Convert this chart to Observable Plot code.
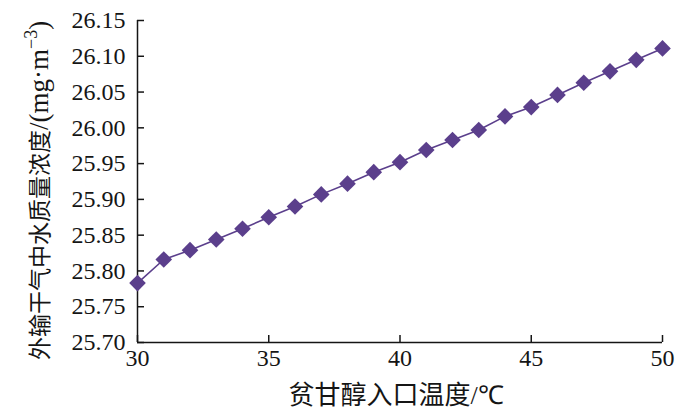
<!DOCTYPE html>
<html><head><meta charset="utf-8">
<script src="https://cdn.jsdelivr.net/npm/d3@7"></script>
<script src="https://cdn.jsdelivr.net/npm/@observablehq/plot@0.6"></script>
<style>
html,body{margin:0;padding:0;background:#fff}
</style>
</head><body><div id="chart"></div>
<script>
const temps = [30,31,32,33,34,35,36,37,38,39,40,41,42,43,44,45,46,47,48,49,50];
const conc = [25.783,25.816,25.829,25.844,25.859,25.875,25.890,25.907,25.922,25.938,25.952,25.969,25.983,25.997,26.016,26.029,26.046,26.063,26.079,26.095,26.111];
const xTicks = [30,35,40,45,50];
const yTicks = [25.70,25.75,25.80,25.85,25.90,25.95,26.00,26.05,26.10,26.15];
const xTitle = "贫甘醇入口温度";
const xUnit = "/℃";
const yTitle = "外输干气中水质量浓度";
const yUnit = "/(mg·m";
const yUnitSup = "−3";

const data = temps.map((t, i) => ({t, c: conc[i]}));
const W = 700, H = 415, mL = 137, mR = 38, mT = 20, mB = 73;
const purple = "#5b3f8c";
const ink = "#151515";
const serif = '"Liberation Serif", serif';

const plot = Plot.plot({
  width: W, height: H,
  marginLeft: mL, marginRight: mR, marginTop: mT, marginBottom: mB,
  style: {fontFamily: serif, fontSize: "24px", color: ink, background: "#fff"},
  x: {domain: [30, 50], label: null},
  y: {domain: [25.70, 26.15], label: null},
  marks: [
    Plot.axisX(xTicks, {tickSize: 0, tickPadding: 6, label: null, fontSize: 24, fontFamily: serif}),
    Plot.axisY(yTicks, {tickSize: 0, tickPadding: 12, label: null, fontSize: 24, fontFamily: serif, tickFormat: d => d.toFixed(2)}),
    Plot.tickX(xTicks, {x: d => d, insetTop: (H - mT - mB) - 7, stroke: ink, strokeWidth: 1.5}),
    Plot.tickY(yTicks, {y: d => d, insetRight: (W - mL - mR) - 7, stroke: ink, strokeWidth: 1.5}),
    Plot.ruleX([30], {stroke: ink, strokeWidth: 1.5}),
    Plot.ruleY([25.70], {stroke: ink, strokeWidth: 1.5}),
    Plot.line(data, {x: "t", y: "c", stroke: purple, strokeWidth: 1.6}),
    Plot.dot(data, {x: "t", y: "c", symbol: "diamond2", r: 7.5, fill: purple, stroke: "none"})
  ]
});
document.getElementById("chart").appendChild(plot);

const svg = d3.select(plot);

// x title
const xt = svg.append("text")
  .attr("x", 396).attr("y", 404)
  .attr("text-anchor", "middle")
  .attr("fill", ink);
xt.append("tspan").style("font-family", '"Noto Sans CJK SC"').style("font-size", "26px").text(xTitle);
xt.append("tspan").style("font-family", serif).style("font-size", "26px").text(xUnit);

// y title
const yt = svg.append("text")
  .attr("transform", "translate(48,360) rotate(-90)")
  .attr("text-anchor", "start")
  .attr("fill", ink);
yt.append("tspan").style("font-family", '"Noto Sans CJK SC"').style("font-size", "23px").text(yTitle);
yt.append("tspan").style("font-family", serif).style("font-size", "27px").text(yUnit);
yt.append("tspan").style("font-family", serif).style("font-size", "18px").attr("dy", -11).text(yUnitSup);
yt.append("tspan").style("font-family", serif).style("font-size", "27px").attr("dy", 11).text(")");
</script>
</body></html>
